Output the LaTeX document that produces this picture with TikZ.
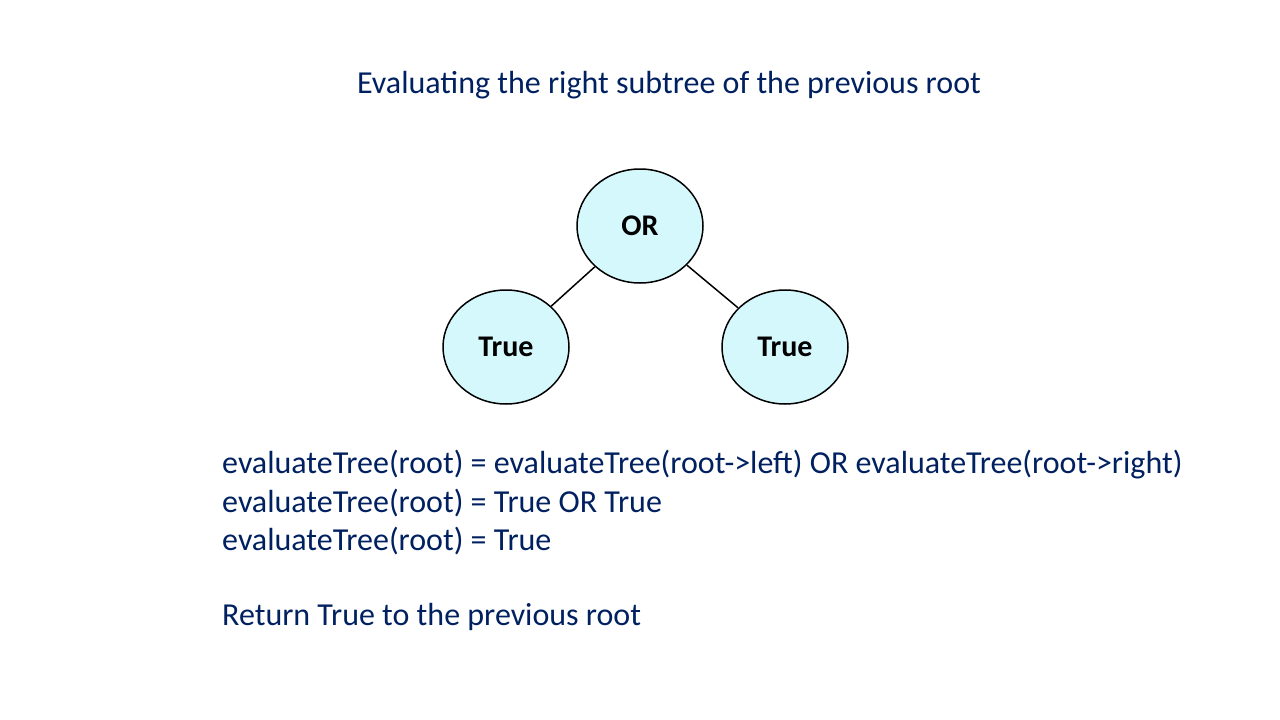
\documentclass[tikz,border=0pt]{standalone}
\usepackage{fontspec}
\setmainfont{Carlito}
\usetikzlibrary{positioning,shapes.geometric}

\definecolor{navy}{RGB}{0,32,96}
\definecolor{bubble}{RGB}{213,248,252}

\begin{document}
\begin{tikzpicture}[x=1pt,y=-1pt,node distance=121pt and 134pt,
  treenode/.style={ellipse,draw,line width=1.5pt,fill=bubble,minimum width=126pt,
    minimum height=114pt,inner sep=0pt,font=\fontsize{30}{34}\selectfont\bfseries},
  caption/.style={text=navy,inner sep=0pt,font=\fontsize{32}{38}\selectfont}]

\useasboundingbox (0,0) rectangle (1280,720);

\node[caption,anchor=base] (TITLE) at (669,93) {Evaluating the right subtree of the previous root};

\node[treenode]                          (OR)    at (640,226) {OR};
\node[treenode,on grid,below left=of OR] (LEFT)  {True};
\node[treenode,on grid,below right=121pt and 145pt of OR] (RIGHT) {True};

\draw[line width=1.5pt] (OR) -- (LEFT);
\draw[line width=1.5pt] (OR) -- (RIGHT);

\node[caption,anchor=base west] (EQ1) at (222,473) {evaluateTree(root) = evaluateTree(root->left) OR evaluateTree(root->right)};
\node[caption,anchor=base west] (EQ2) at (222,512) {evaluateTree(root) = True OR True};
\node[caption,anchor=base west] (EQ3) at (222,550) {evaluateTree(root) = True};
\node[caption,anchor=base west] (RET) at (222,625) {Return True to the previous root};
\end{tikzpicture}
\end{document}
